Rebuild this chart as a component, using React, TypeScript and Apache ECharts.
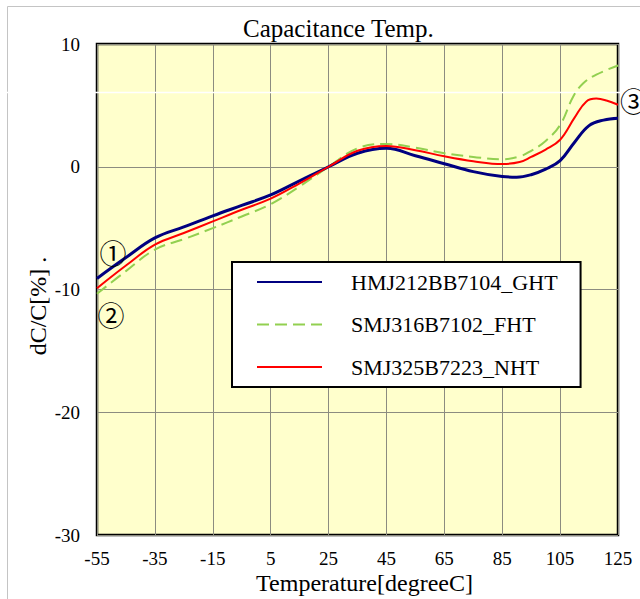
import React, { useEffect, useRef } from "react";
import * as echarts from "echarts";

const TITLE = "Capacitance Temp.";
const X_NAME = "Temperature[degreeC]";
const Y_NAME = "dC/C[%] .";
const X_MIN = -55;
const X_MAX = 125;
const X_STEP = 20;
const Y_MIN = -30;
const Y_MAX = 10;
const Y_STEP = 10;

const seriesNames = ["HMJ212BB7104_GHT", "SMJ316B7102_FHT", "SMJ325B7223_NHT"];

const ghtTemps = [-55, -45, -35, -25, -15, -5, 5, 15, 25, 35, 45, 55, 65, 75, 85, 90, 95, 100, 105, 110, 115, 120, 125];
const ghtValues = [-9.1, -7.4, -5.8, -4.9, -4.0, -3.15, -2.3, -1.15, 0, 1.1, 1.5, 0.9, 0.25, -0.4, -0.8, -0.85, -0.65, -0.2, 0.5, 2.0, 3.35, 3.8, 3.95];

const fhtTemps = [-55, -45, -35, -25, -15, -5, 5, 15, 25, 35, 45, 55, 65, 75, 85, 91, 95, 100, 105, 109.5, 113, 117.5, 125];
const fhtValues = [-10.35, -8.5, -6.75, -5.9, -5.0, -4.05, -3.05, -1.6, 0, 1.5, 1.85, 1.55, 1.1, 0.8, 0.6, 0.84, 1.3, 2.1, 3.4, 5.7, 6.8, 7.5, 8.25];

const nhtTemps = [-55, -45, -35, -25, -15, -5, 5, 15, 25, 35, 45, 55, 65, 75, 85, 91, 95, 100, 105, 110, 114, 117.5, 121, 125];
const nhtValues = [-9.9, -8.05, -6.35, -5.4, -4.45, -3.5, -2.6, -1.35, 0, 1.3, 1.7, 1.35, 0.85, 0.45, 0.22, 0.38, 0.8, 1.4, 2.2, 4.0, 5.3, 5.55, 5.4, 5.05];

const markers = ["①", "②", "③"];

const SERIF = "'Times New Roman', 'Liberation Serif', serif";
const CJK = "'Noto Sans CJK JP'";

function toData(temps: number[], values: number[]) {
  return temps.map((t, i) => [t - X_MIN, values[i]]);
}

export default function App() {
  const ref = useRef<HTMLDivElement>(null);
  useEffect(() => {
    document.body.style.margin = "0";
    const chart = echarts.init(ref.current!, null, { renderer: "svg" });
    chart.setOption({
      animation: false,
      backgroundColor: "#ffffff",
      title: {
        text: TITLE,
        left: 243,
        top: 16,
        padding: 0,
        textStyle: { fontFamily: SERIF, fontSize: 25, fontWeight: "normal", color: "#000" },
      },
      grid: {
        left: 97,
        right: 22,
        top: 44,
        bottom: 64,
        show: true,
        backgroundColor: "#FFFFCC",
        borderColor: "#000",
        borderWidth: 2.5,
        containLabel: false,
        outerBoundsMode: "none",
      },
      legend: {
        orient: "vertical",
        left: 232,
        top: 262,
        backgroundColor: "#ffffff",
        borderColor: "#000",
        borderWidth: 2,
        padding: [9, 23, 9, 24],
        itemWidth: 65,
        itemHeight: 14,
        itemGap: 20.5,
        data: seriesNames,
        itemStyle: { opacity: 0 },
        textStyle: { fontFamily: SERIF, fontSize: 22, color: "#000", padding: [0, 0, 0, 24] },
      },
      xAxis: {
        type: "value",
        min: 0,
        max: X_MAX - X_MIN,
        interval: X_STEP,
        name: X_NAME,
        nameLocation: "middle",
        nameGap: 36,
        nameMoveOverlap: false,
        nameTextStyle: { fontFamily: SERIF, fontSize: 24, color: "#000", padding: [0, 0, 0, 14] },
        axisLine: { show: false },
        axisTick: { show: false },
        axisLabel: {
          margin: 14,
          fontFamily: SERIF,
          fontSize: 19,
          color: "#000",
          formatter: (v: number) => String(v + X_MIN),
        },
        splitLine: { show: true, lineStyle: { color: "#8c8c80", width: 1 } },
      },
      yAxis: {
        type: "value",
        min: Y_MIN,
        max: Y_MAX,
        interval: Y_STEP,
        axisLine: { show: false },
        axisTick: { show: false },
        axisLabel: { margin: 17, fontFamily: SERIF, fontSize: 19, color: "#000" },
        splitLine: { show: true, lineStyle: { color: "#8c8c80", width: 1 } },
      },
      graphic: [
        {
          type: "rect",
          z: -10,
          shape: { x: 7.5, y: 6.5, width: 700, height: 700 },
          style: { fill: "none", stroke: "#c4c4c4", lineWidth: 1 },
        },
        {
          type: "line",
          z: 1,
          shape: { x1: 0, y1: 92.5, x2: 640, y2: 92.5 },
          style: { stroke: "#ffffff", lineWidth: 1.5 },
        },
        {
          type: "text",
          x: 38,
          y: 306,
          rotation: Math.PI / 2,
          style: {
            text: Y_NAME,
            fontFamily: SERIF,
            fontSize: 24,
            fill: "#000",
            align: "center",
            verticalAlign: "middle",
          },
        },
        {
          type: "text",
          x: 113,
          y: 252.5,
          z: 10,
          style: { text: markers[0], fontFamily: CJK, fontSize: 27, fill: "#000", align: "center", verticalAlign: "middle" },
        },
        {
          type: "text",
          x: 111,
          y: 314.5,
          z: 10,
          style: { text: markers[1], fontFamily: CJK, fontSize: 27, fill: "#000", align: "center", verticalAlign: "middle" },
        },
        {
          type: "text",
          x: 620,
          y: 100,
          z: 10,
          style: { text: markers[2], fontFamily: CJK, fontSize: 27, fill: "#000", align: "left", verticalAlign: "middle" },
        },
      ],
      series: [
        {
          name: seriesNames[0],
          type: "line",
          data: toData(ghtTemps, ghtValues),
          smooth: 0.4,
          symbol: "none",
          z: 4,
          lineStyle: { color: "#000080", width: 3 },
          itemStyle: { color: "#000080" },
        },
        {
          name: seriesNames[1],
          type: "line",
          data: toData(fhtTemps, fhtValues),
          smooth: 0.4,
          symbol: "none",
          z: 3,
          lineStyle: { color: "#92D050", width: 2, type: [12, 6] },
          itemStyle: { color: "#92D050" },
        },
        {
          name: seriesNames[2],
          type: "line",
          data: toData(nhtTemps, nhtValues),
          smooth: 0.4,
          symbol: "none",
          z: 5,
          lineStyle: { color: "#FF0000", width: 2 },
          itemStyle: { color: "#FF0000" },
        },
      ],
    });
    return () => chart.dispose();
  }, []);
  return <div ref={ref} style={{ position: "absolute", left: 0, top: 0, width: 640, height: 599 }} />;
}
